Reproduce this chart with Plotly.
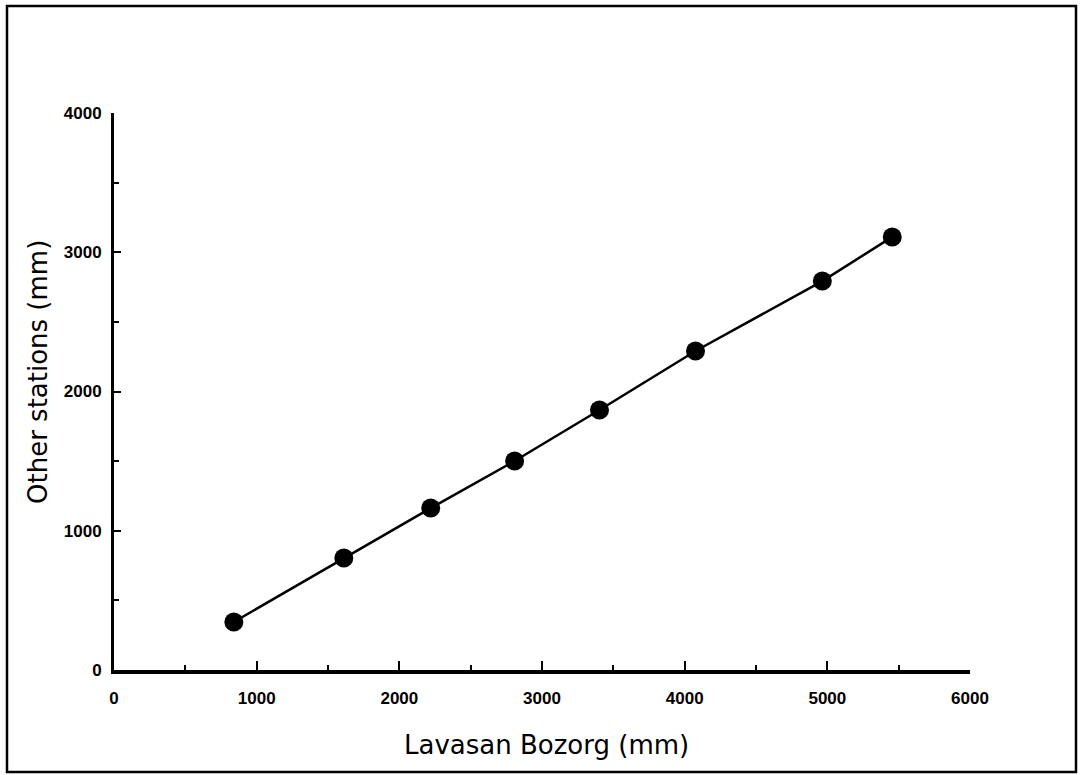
import plotly.graph_objects as go

lavasan_bozorg = [840, 1611, 2220, 2808, 3403, 4076, 4965, 5455]
other_stations = [345, 804, 1163, 1501, 1867, 2291, 2793, 3110]

x_ticks = [0, 1000, 2000, 3000, 4000, 5000, 6000]
y_ticks = [0, 1000, 2000, 3000, 4000]

x_title = "Lavasan Bozorg (mm)"
y_title = "Other stations (mm)"

fig = go.Figure()
fig.add_trace(go.Scatter(
    x=lavasan_bozorg, y=other_stations, mode="lines+markers",
    line=dict(color="black", width=2.5),
    marker=dict(color="black", size=19, symbol="circle"),
    showlegend=False, cliponaxis=False,
))

W, H = 1081, 775
L, R, T, B = 114, 111, 113, 105
pw, ph = W - L - R, H - T - B

def px(xpix):
    return (xpix - L) / pw

def py(ypix):
    return (H - B - ypix) / ph

fig.add_shape(type="rect", xref="paper", yref="paper",
              x0=px(7), x1=px(1076), y0=py(772), y1=py(6),
              line=dict(color="black", width=2.5), fillcolor="rgba(0,0,0,0)")

tickfont = dict(family="Liberation Sans, Arial", size=17, color="black", weight="bold")
titlefont = dict(family="DejaVu Sans", size=26, color="black")

fig.add_annotation(text=x_title, xref="paper", yref="paper", x=px(546), y=py(745),
                   xanchor="center", yanchor="middle", showarrow=False, font=titlefont)
fig.add_annotation(text=y_title, xref="paper", yref="paper", x=px(38), y=py(372),
                   xanchor="center", yanchor="middle", showarrow=False, font=titlefont,
                   textangle=-90)

fig.update_layout(
    width=W, height=H,
    margin=dict(l=L, r=R, t=T, b=B, pad=0),
    paper_bgcolor="white", plot_bgcolor="white",
    xaxis=dict(
        range=[0, 6000], tickvals=x_ticks, ticktext=[str(v) for v in x_ticks],
        showgrid=False, zeroline=False, showline=True, linecolor="black", linewidth=4,
        ticks="inside", ticklen=9, tickwidth=2, tickcolor="black",
        minor=dict(tickvals=[500, 1500, 2500, 3500, 4500, 5500], ticks="inside", ticklen=5, tickwidth=2, tickcolor="black"),
        tickfont=tickfont, ticklabelstandoff=10,
    ),
    yaxis=dict(
        range=[0, 4000], tickvals=y_ticks, ticktext=[str(v) for v in y_ticks],
        showgrid=False, zeroline=False, showline=True, linecolor="black", linewidth=3,
        ticks="inside", ticklen=7, tickwidth=2, tickcolor="black",
        minor=dict(tickvals=[500, 1500, 2500, 3500], ticks="inside", ticklen=5, tickwidth=2, tickcolor="black"),
        tickfont=tickfont, ticklabelstandoff=6,
    ),
)

fig.write_html("out.html")
